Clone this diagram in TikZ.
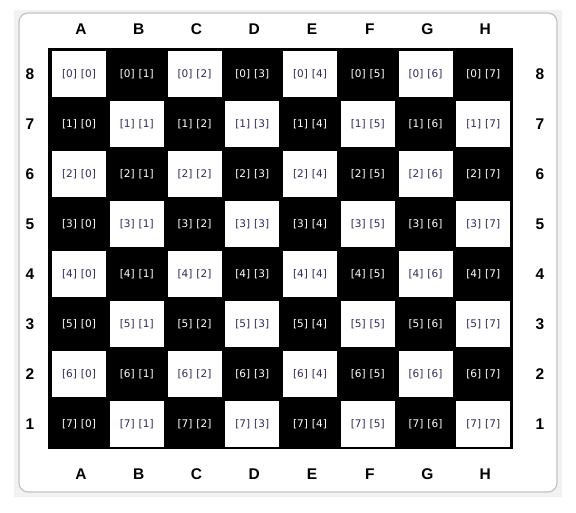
\documentclass[tikz,border=0pt]{standalone}
\usepackage{fontspec}
\setmainfont{Liberation Sans}
\newfontfamily\cellfont{DejaVu Sans}
\definecolor{pagebg}{HTML}{F2F2F2}
\definecolor{boxline}{HTML}{C4C4C4}
\definecolor{celltxt}{HTML}{302A58}
\begin{document}
\begin{tikzpicture}[x=1pt,y=-1pt,
  lbl/.style={font=\fontsize{15.5}{16}\selectfont\bfseries, text=black, inner sep=0pt},
  lighttxt/.style={font=\cellfont\fontsize{10.5}{11}\selectfont, text=celltxt, inner sep=0pt},
  darktxt/.style={font=\cellfont\fontsize{10.5}{11}\selectfont, text=white, inner sep=0pt}]
\useasboundingbox (0,0) rectangle (576,512);
\fill[white] (0,0) rectangle (576,512);
\fill[pagebg] (14,10) rectangle (562,497);
\draw[boxline, line width=1.2pt, fill=white, rounded corners=9pt] (19,13) rectangle (557,492);
\node[fill=black, minimum width=465pt, minimum height=401pt, inner sep=0pt, anchor=north west] (board) at (48,48) {};
\foreach \c [count=\j from 0] in {A,B,C,D,E,F,G,H} {
  \pgfmathsetmacro\cx{79+57.75*\j}
  \node[lbl] (top\c) at (\cx+2,29) {\c};
  \node[lbl] (bot\c) at (\cx+2,474) {\c};
}
\foreach \i in {0,...,7} {
  \pgfmathsetmacro\cy{74+50*\i}
  \pgfmathtruncatemacro\rank{8-\i}
  \node[lbl] (left\i) at (30,\cy) {\rank};
  \node[lbl] (right\i) at (540,\cy) {\rank};
  \foreach \j in {0,...,7} {
    \pgfmathsetmacro\cx{79+57.75*\j}
    \pgfmathtruncatemacro\parity{mod(\i+\j,2)}
    \ifnum\parity=0
      \fill[white] (\cx-27,\cy-23) rectangle (\cx+27,\cy+23);
      \node[lighttxt] (sq\i\j) at (\cx,\cy) {[\i]\hspace{4pt}[\j]};
    \else
      \node[darktxt] (sq\i\j) at (\cx,\cy) {[\i]\hspace{4pt}[\j]};
    \fi
  }
}
\end{tikzpicture}
\end{document}
